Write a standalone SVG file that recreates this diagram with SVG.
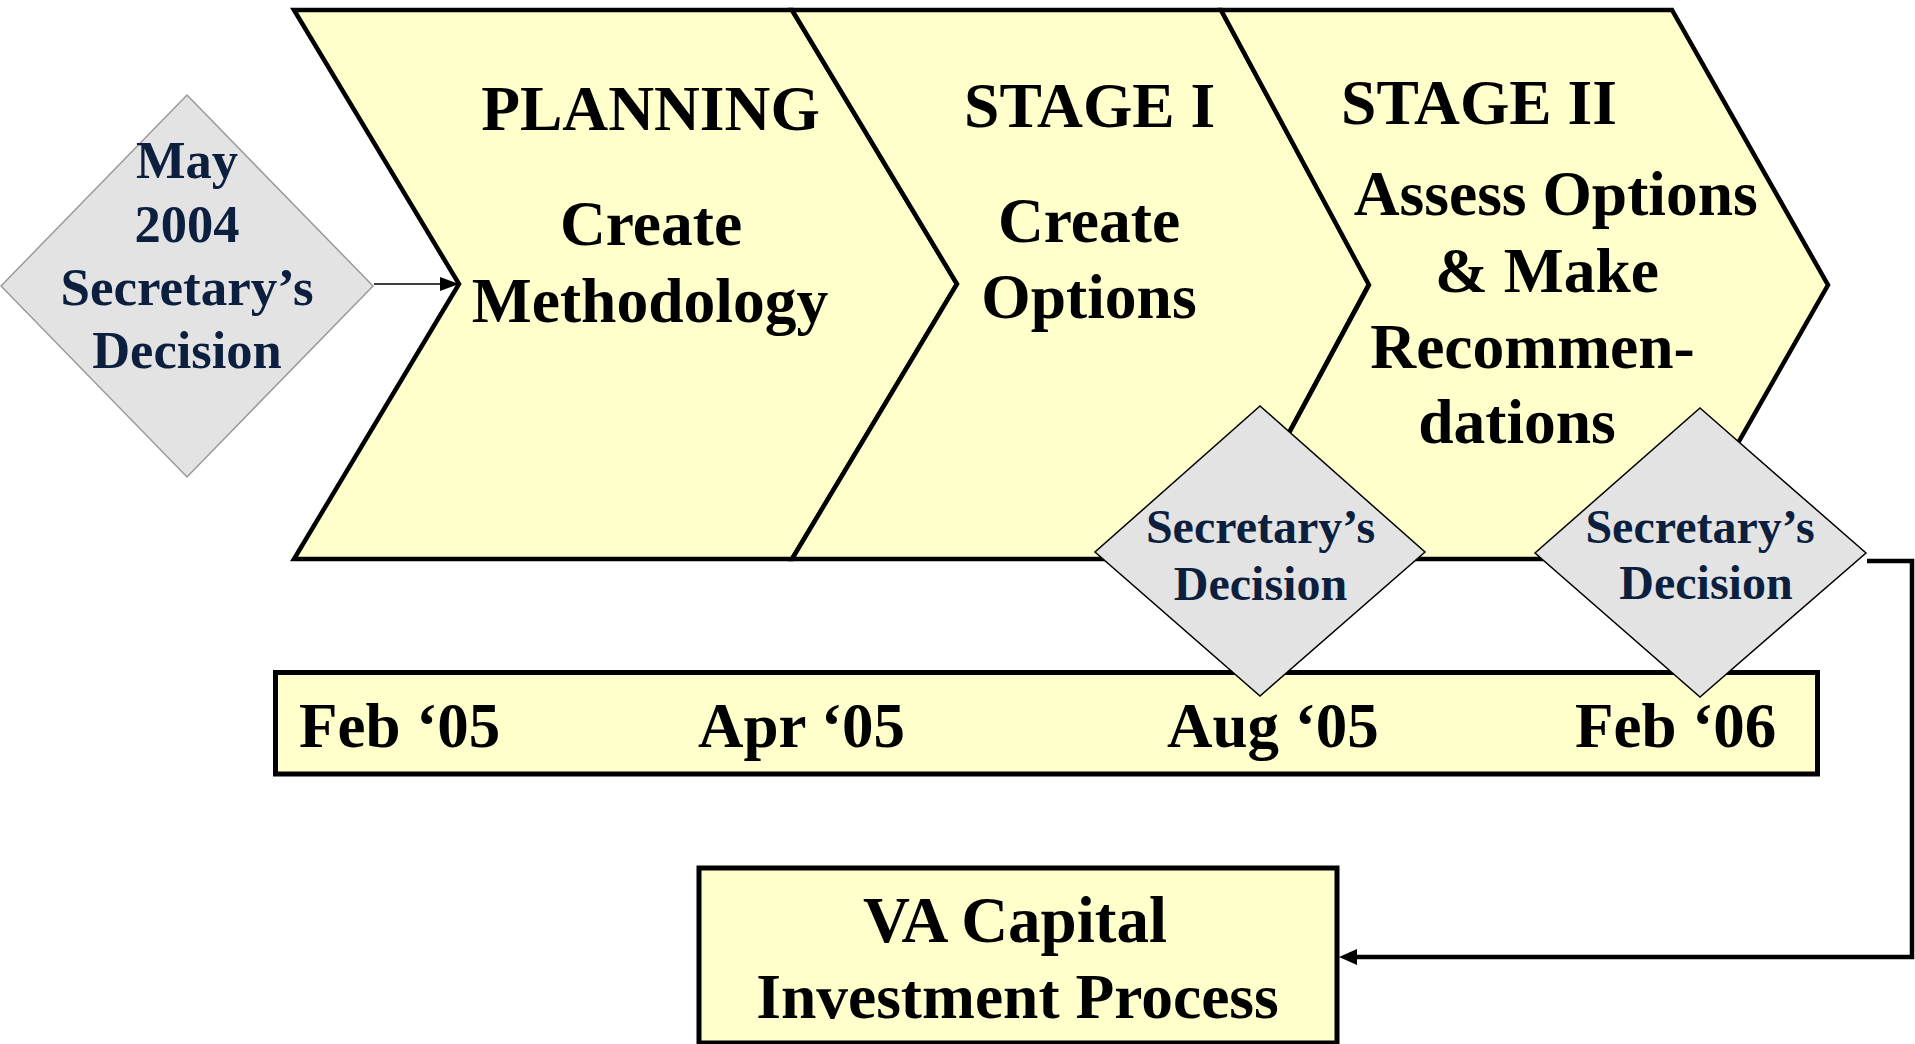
<svg xmlns="http://www.w3.org/2000/svg" width="1915" height="1044" viewBox="0 0 1915 1044">
  <defs>
    <style>
      .chev { fill: #ffffcc; stroke: #000; stroke-width: 4.5; stroke-linejoin: miter; }
      .box { fill: #ffffcc; stroke: #000; stroke-width: 5; }
      .dia1 { fill: #e3e3e3; stroke: #9a9a9a; stroke-width: 1.5; }
      .dia { fill: #e3e3e3; stroke: #000; stroke-width: 1.5; }
      .t { font-family: "Liberation Serif", "Times New Roman", serif; font-weight: bold; fill: #000; }
      .big { font-size: 63.5px; text-anchor: middle; }
      .date { font-size: 63px; }
      .dt { font-family: "Liberation Serif", "Times New Roman", serif; font-weight: bold; fill: #0c1f3f; text-anchor: middle; }
      .conn { fill: none; stroke: #000; }
    </style>
    <marker id="arrSmall" markerWidth="19" markerHeight="14" refX="19" refY="7" orient="auto" markerUnits="userSpaceOnUse">
      <path d="M0,0 L19,7 L0,14 z" fill="#000"/>
    </marker>
    <marker id="arrBig" markerWidth="18" markerHeight="16" refX="2" refY="8" orient="auto" markerUnits="userSpaceOnUse">
      <path d="M0,0 L18,8 L0,16 z" fill="#000"/>
    </marker>
  </defs>

  <g id="planning">
    <polygon class="chev" points="294,10 792,10 957,284 792,559 294,559 459,284"/>
    <text class="t big" x="650.5" y="130">PLANNING</text>
    <text class="t big" x="651" y="245">Create</text>
    <text class="t big" x="650" y="321.7">Methodology</text>
  </g>

  <g id="stage1">
    <polygon class="chev" points="792,10 1221,10 1369,284 1221,559 792,559 957,284"/>
    <text class="t big" x="1089.7" y="127">STAGE I</text>
    <text class="t big" x="1089" y="241.7">Create</text>
    <text class="t big" x="1089" y="318">Options</text>
  </g>

  <g id="stage2">
    <polygon class="chev" points="1221,10 1672,10 1828,285 1672,559 1221,559 1369,285"/>
    <text class="t big" x="1479" y="124">STAGE II</text>
    <text class="t big" x="1555.7" y="215">Assess Options</text>
    <text class="t big" x="1547" y="291.7">&amp; Make</text>
    <text class="t big" x="1532.5" y="368">Recommen-</text>
    <text class="t big" x="1517" y="443">dations</text>
  </g>

  <g id="timeline">
    <rect class="box" x="275.5" y="672.5" width="1542" height="101.5"/>
    <text class="t date" x="299" y="747">Feb ‘05</text>
    <text class="t date" x="698" y="747">Apr ‘05</text>
    <text class="t date" x="1167" y="747">Aug ‘05</text>
    <text class="t date" x="1575" y="747">Feb ‘06</text>
  </g>

  <g id="va-capital">
    <rect class="box" x="699" y="868" width="638" height="175"/>
    <text class="t big" x="1015" y="941.5" style="font-size:65px">VA Capital</text>
    <text class="t big" x="1017.5" y="1018">Investment Process</text>
  </g>

  <g id="decision-2004">
    <polygon class="dia1" points="187,95 373,286 187,477 1,286"/>
    <text class="dt" x="187" y="178" font-size="52.5">May</text>
    <text class="dt" x="187" y="242" font-size="52.5">2004</text>
    <text class="dt" x="187" y="305" font-size="53">Secretary’s</text>
    <text class="dt" x="187" y="368" font-size="52.5">Decision</text>
  </g>

  <g id="decision-aug05">
    <polygon class="dia" points="1260,406 1425,552 1260,696 1095,552"/>
    <text class="dt" x="1260.5" y="543" font-size="48">Secretary’s</text>
    <text class="dt" x="1260.5" y="600" font-size="48">Decision</text>
  </g>

  <g id="decision-feb06">
    <polygon class="dia" points="1700,408 1866,553 1700,697 1535,553"/>
    <text class="dt" x="1700" y="543" font-size="48">Secretary’s</text>
    <text class="dt" x="1706" y="599" font-size="48">Decision</text>
  </g>

  <g id="connectors">
    <line class="conn" x1="374" y1="284" x2="459" y2="284" stroke-width="1.5" marker-end="url(#arrSmall)"/>
    <polyline class="conn" points="1867,561 1912,561 1912,957 1355,957" stroke-width="4.5" marker-end="url(#arrBig)"/>
  </g>
</svg>
